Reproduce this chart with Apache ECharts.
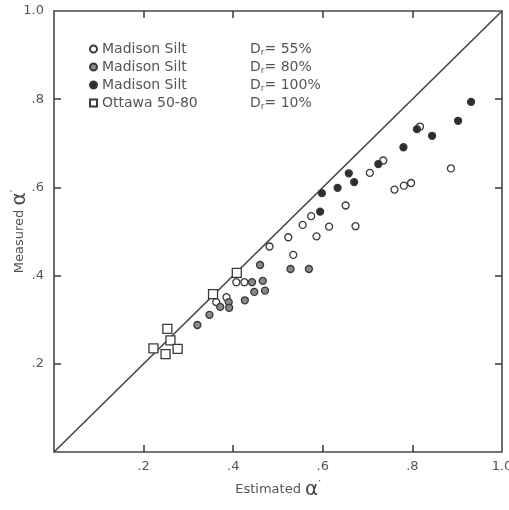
<!DOCTYPE html>
<html>
<head>
<meta charset="utf-8">
<script src="https://cdn.jsdelivr.net/npm/echarts@6/dist/echarts.min.js"></script>
<style>
  html, body { margin: 0; padding: 0; background: #fff; }
  #chart { width: 509px; height: 510px; }
</style>
</head>
<body>
<div id="chart"></div>
<script>
// [estimated, measured] pairs
var silt55 = [
  [0.407, 0.385], [0.425, 0.385], [0.362, 0.340], [0.385, 0.351],
  [0.481, 0.466], [0.523, 0.487], [0.534, 0.447], [0.555, 0.515],
  [0.574, 0.535], [0.586, 0.489], [0.614, 0.511], [0.651, 0.559],
  [0.673, 0.512], [0.705, 0.633], [0.735, 0.661], [0.760, 0.595],
  [0.781, 0.604], [0.797, 0.610], [0.817, 0.738], [0.886, 0.643]
]
var silt80 = [
  [0.320, 0.288], [0.347, 0.311], [0.371, 0.329], [0.390, 0.340],
  [0.391, 0.327], [0.426, 0.344], [0.447, 0.363], [0.471, 0.366],
  [0.466, 0.388], [0.442, 0.385], [0.460, 0.424], [0.528, 0.415],
  [0.569, 0.415]
]
var silt100 = [
  [0.594, 0.545], [0.598, 0.587], [0.633, 0.599], [0.658, 0.632],
  [0.670, 0.612], [0.724, 0.653], [0.780, 0.691], [0.810, 0.732],
  [0.844, 0.717], [0.902, 0.751], [0.931, 0.794]
]
var ottawa = [
  [0.253, 0.279], [0.260, 0.253], [0.222, 0.235], [0.249, 0.222],
  [0.276, 0.234], [0.408, 0.406], [0.355, 0.358]
]
var equalityLine = [[0, 0], [1, 1]]

var tickValues = [0.2, 0.4, 0.6, 0.8]
var labelValues = [0.2, 0.4, 0.6, 0.8, 1.0]

var soilNames = ['Madison Silt', 'Madison Silt', 'Madison Silt', 'Ottawa 50-80']
var densities = [55, 80, 100, 10]
var seriesKeys = ['s55', 's80', 's100', 'ott']

var ink = '#3a3a3a'
var textColor = '#555'

var chart = echarts.init(document.getElementById('chart'))

function tickLabel (v) {
  if (v === 1) return '1.0'
  return String(Math.round(v * 10) / 10).replace('0.', '.')
}

// 图例: 名称 + D_r
function legendText (key) {
  var i = seriesKeys.indexOf(key)
  return '{n|' + soilNames[i] + '}{d|D}{r|r}{p|= ' + densities[i] + '%}'
}

function pointSeries (key, data, symbol, size, fill) {
  return {
    name: key,
    type: 'scatter',
    data: data,
    symbol: symbol,
    symbolSize: size,
    itemStyle: { color: fill, borderColor: ink, borderWidth: 1.3, opacity: 1 },
    z: 3
  }
}

function axisName () {
  return {
    rich: {
      t: { fontSize: 13, color: textColor },
      a: { fontSize: 20, color: '#444' },
      p: { fontSize: 11, color: '#444', verticalAlign: 'top' }
    }
  }
}

// 每个坐标轴单独的刻度对象
function tickStyle () {
  return {
    show: true,
    inside: true,
    length: 7,
    customValues: tickValues.slice(),
    lineStyle: { color: ink, width: 1.5 }
  }
}

var option = {
  backgroundColor: '#fff',
  animation: false,
  textStyle: { fontFamily: 'DejaVu Sans' },
  grid: {
    left: 54, right: 7, top: 11, bottom: 58,
    outerBoundsMode: 'none',
    containLabel: false,
    show: true, borderColor: '#4a4a4a', borderWidth: 1.6,
    backgroundColor: 'transparent'
  },
  legend: {
    orient: 'vertical',
    left: 84,
    top: 37,
    itemGap: 3,
    itemWidth: 7,
    itemHeight: 7,
    data: seriesKeys,
    formatter: legendText,
    textStyle: {
      color: textColor,
      fontSize: 14,
      rich: {
        n: { width: 148, fontSize: 14, color: textColor },
        d: { fontSize: 14, color: textColor },
        r: { fontSize: 9, color: textColor, verticalAlign: 'bottom', padding: [7, 0, 0, 0] },
        p: { fontSize: 14, color: textColor }
      }
    }
  },
  xAxis: [
    {
      type: 'value', min: 0, max: 1, interval: 0.2, position: 'bottom',
      name: '{t|Estimated }{a|α}{p|′}',
      nameLocation: 'middle', nameGap: 28, nameMoveOverlap: false,
      nameTextStyle: axisName(),
      axisLine: { show: false, onZero: false },
      axisTick: tickStyle(),
      axisLabel: { customValues: labelValues, formatter: tickLabel, color: textColor, fontSize: 13, margin: 8 },
      splitLine: { show: false }
    },
    {
      type: 'value', min: 0, max: 1, interval: 0.2, position: 'top',
      axisLine: { show: false, onZero: false },
      axisTick: tickStyle(),
      axisLabel: { show: false },
      splitLine: { show: false }
    }
  ],
  yAxis: [
    {
      type: 'value', min: 0, max: 1, interval: 0.2, position: 'left',
      name: '{t|Measured }{a|α}{p|′}',
      nameLocation: 'middle', nameGap: 24, nameMoveOverlap: false,
      nameTextStyle: axisName(),
      axisLine: { show: false, onZero: false },
      axisTick: tickStyle(),
      axisLabel: { customValues: labelValues, formatter: tickLabel, color: textColor, fontSize: 13, margin: 10 },
      splitLine: { show: false }
    },
    {
      type: 'value', min: 0, max: 1, interval: 0.2, position: 'right',
      axisLine: { show: false, onZero: false },
      axisTick: tickStyle(),
      axisLabel: { show: false },
      splitLine: { show: false }
    }
  ],
  series: [
    {
      name: 'equality',
      type: 'line',
      data: equalityLine,
      symbol: 'none',
      lineStyle: { color: '#444', width: 1.6 },
      z: 2
    },
    pointSeries('s55', silt55, 'circle', 7, '#fff'),
    pointSeries('s80', silt80, 'circle', 7, '#8a8a8a'),
    pointSeries('s100', silt100, 'circle', 7, '#2e2e2e'),
    pointSeries('ott', ottawa, 'rect', 9, '#fff')
  ]
}

chart.setOption(option)
</script>
</body>
</html>
